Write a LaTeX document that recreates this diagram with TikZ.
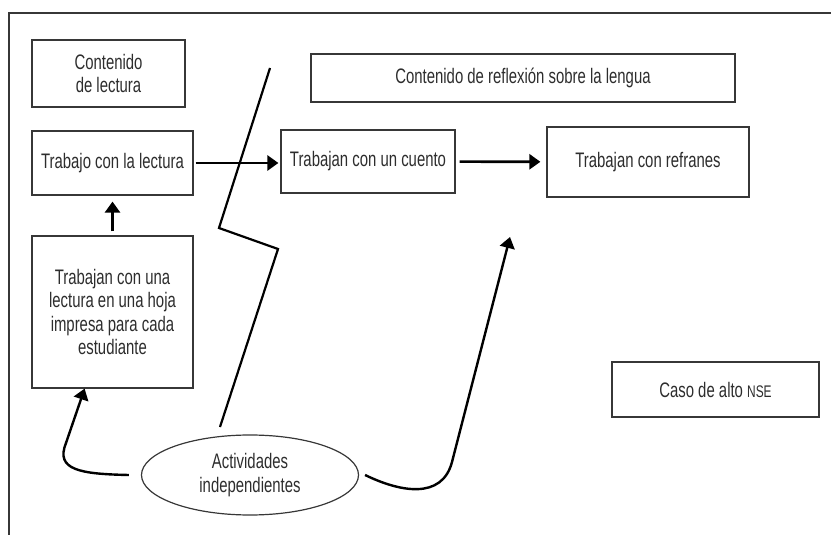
\documentclass[tikz,border=0pt]{standalone}
\usepackage{fontspec}
\setmainfont{Liberation Sans}[FakeStretch=0.71]
\usepackage{tikz}
\usetikzlibrary{positioning,arrows.meta,shapes.geometric}
\definecolor{TextGray}{RGB}{45,45,45}
\definecolor{LineGray}{RGB}{55,55,55}

\begin{document}
\begin{tikzpicture}[x=0.5pt, y=-0.5pt,
    box/.style={rectangle, draw=LineGray, line width=0.6pt, inner sep=0pt,
                align=center, text=TextGray, font=\fontsize{10.5}{11.8}\selectfont},
    oval/.style={ellipse, draw=LineGray, line width=0.6pt, inner sep=0pt,
                 align=center, text=TextGray, font=\fontsize{10.5}{11.8}\selectfont},
    ar/.style={-{Triangle[length=5.5pt,width=7.5pt]}, line width=1.3pt},
    curv/.style={-{Triangle[length=5.5pt,width=7.5pt]}, line width=1.2pt}
]
    \useasboundingbox (0,0) rectangle (831,535);
    % frame
    \draw[LineGray, line width=0.6pt] (9,535) -- (9,13) -- (831,13);

    \node[box, minimum width=76.5pt, minimum height=33.5pt] (lect) at (108.5,73.5) {Contenido\\ de lectura};
    \node[box, minimum width=80.5pt, minimum height=32pt] (trab) at (112.5,163) {Trabajo con la lectura};
    \node[box, minimum width=80.5pt, minimum height=76pt] (hoja) at (112.5,312)
        {Trabajan con una\\ lectura en una hoja\\ impresa para cada\\ estudiante};
    \node[box, minimum width=212pt, minimum height=24pt] (refl) at (523,78) {Contenido de reflexión sobre la lengua};
    \node[box, minimum width=87pt, minimum height=31.5pt] (cuento) at (368,161.5) {Trabajan con un cuento};
    \node[box, minimum width=101pt, minimum height=35pt] (refr) at (648,162) {Trabajan con refranes};
    \node[box, minimum width=103.5pt, minimum height=27.5pt] (caso) at (715.5,389.5)
        {Caso de alto {\fontsize{8.4}{9}\selectfont NSE}};
    \node[oval, minimum width=108.5pt, minimum height=40pt] (act) at (250,475) {Actividades\\ independientes};
    \coordinate (actR) at (510,237);

    % dividing line
    \draw[line width=1.1pt] (270,68) -- (219,228) -- (278,249) -- (220,427);

    \draw[ar, shorten <=1pt, shorten >=1pt] (trab) -- (trab -| cuento.west);
    \draw[ar, shorten <=2pt, shorten >=3pt] (cuento) -- (refr);
    \draw[ar, shorten <=2pt, shorten >=3pt] (hoja) -- (trab);
    \draw[curv] ([xshift=-6pt]act.west) .. controls (80,474) and (55,470) .. (66,443) -- (hoja.-110);
    \draw[curv] ([xshift=3pt]act.east) .. controls (400,492) and (442,500) .. (452,462) -- (actR);
\end{tikzpicture}
\end{document}
